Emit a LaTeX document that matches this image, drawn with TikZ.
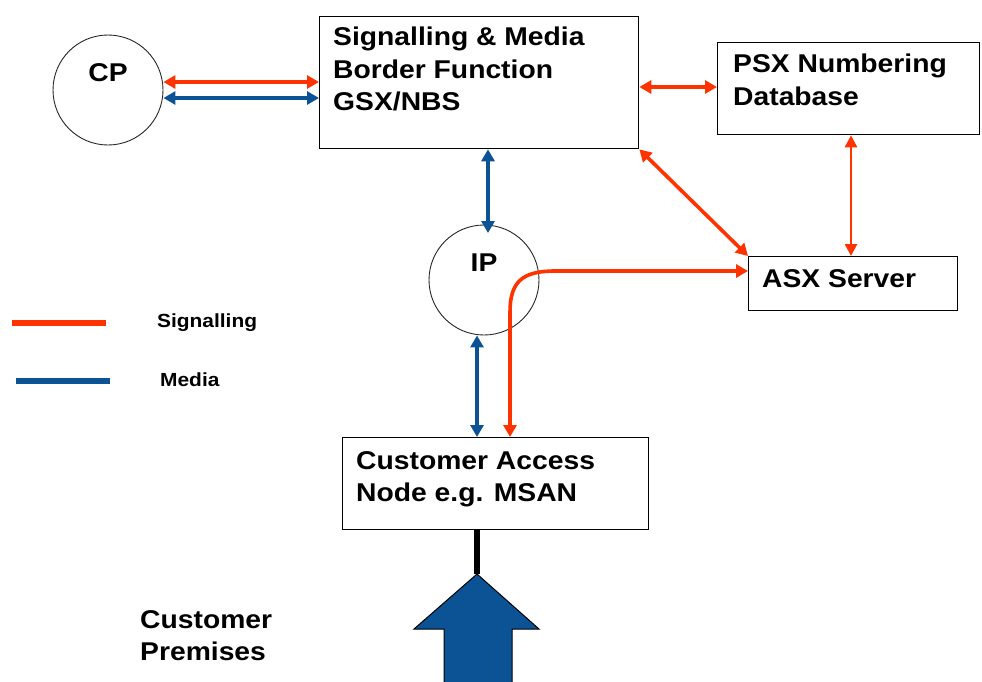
\documentclass[tikz,border=0pt]{standalone}
\usepackage{fontspec}
\setmainfont[FakeStretch=1.1]{Liberation Sans}
\usetikzlibrary{arrows.meta}
\definecolor{sigred}{HTML}{FF3300}
\definecolor{medblue}{HTML}{0B5394}
\begin{document}
\begin{tikzpicture}[x=1pt,y=-1pt,
  box/.style={draw=black, line width=1.3pt, fill=white, inner sep=0pt, anchor=north west},
  circ/.style={circle, draw=black!85, line width=0.9pt, minimum size=110pt, inner sep=0pt},
  lbl/.style={font=\fontsize{25.7}{32.5}\selectfont\bfseries, align=left, inner sep=0pt, anchor=north west},
  legtxt/.style={font=\fontsize{19}{22}\selectfont\bfseries, inner sep=0pt, anchor=base west},
  sig/.style={draw=sigred, line width=3.6pt, {Triangle[length=12pt,width=13pt]}-{Triangle[length=12pt,width=13pt]}},
  sigthin/.style={draw=sigred, line width=2.6pt, {Triangle[length=12pt,width=12pt]}-{Triangle[length=12pt,width=12pt]}},
  med/.style={draw=medblue, line width=3.6pt, {Triangle[length=12pt,width=13pt]}-{Triangle[length=12pt,width=13pt]}},
  legline/.style={line width=6pt}
]
\useasboundingbox (0,0) rectangle (982,681);

% nodes
\node[circ] (cp) at (108,90) {};
\node[font=\fontsize{25.7}{30}\selectfont\bfseries, inner sep=0pt] (cpt) at (108,73) {CP};
\node[box, minimum width=319pt, minimum height=132pt] (smbf) at (319,16) {};
\node[lbl] (smbft) at (333,27) {Signalling \& Media\\Border Function\\GSX/NBS};
\node[box, minimum width=262pt, minimum height=92pt] (psx) at (717,42) {};
\node[lbl] (psxt) at (733,54) {PSX Numbering\\Database};
\node[circ] (ip) at (484,280) {};
\node[font=\fontsize{25.7}{30}\selectfont\bfseries, inner sep=0pt] (ipt) at (484,263) {IP};
\node[box, minimum width=209pt, minimum height=54pt] (asx) at (748,256) {};
\node[lbl] (asxt) at (762,269) {ASX Server};
\node[box, minimum width=306pt, minimum height=92pt] (can) at (342,437) {};
\node[lbl] (cant) at (356,451) {Customer Access\\Node e.g. MSAN};
\node[lbl] (prem) at (140,610) {Customer\\Premises};

% connectors
\draw[sig] (cp.east |- 0,82) -- (smbf.west |- 0,82);
\draw[med] (cp.east |- 0,98) -- (smbf.west |- 0,98);
\draw[sig] (smbf.east |- 0,87) -- (psx.west |- 0,87);
\draw[med] (smbf.south -| 488,0) -- (488,233);
\draw[sig] (smbf.south east) -- (asx.north west);
\draw[sigthin] (psx.south -| 851,0) -- (asx.north -| 851,0);
\draw[med] (ip.south -| 477,0) -- (can.north -| 477,0);
\draw[sig] (asx.west |- 0,271) -- (555,271) .. controls (522,271) and (510,282) .. (510,312) -- (can.north -| 510,0);

% customer premises arrow
\coordinate (tipc) at (477,574);
\draw[line width=6pt, black] (can.south -| 477,0) -- (tipc);
\draw[fill=medblue, draw=black, line width=1pt, line join=miter]
  (tipc) -- (539,629) -- (512,629) -- (512,690) -- (444,690) -- (444,629) -- (414,629) -- cycle;

% legend
\coordinate (l1a) at (12,323); \coordinate (l1b) at (106,323);
\coordinate (l2a) at (16,381); \coordinate (l2b) at (110,381);
\draw[legline, sigred] (l1a) -- (l1b);
\draw[legline, medblue] (l2a) -- (l2b);
\node[legtxt] (lsig) at (157,327) {Signalling};
\node[legtxt] (lmed) at (160,386) {Media};
\end{tikzpicture}
\end{document}
